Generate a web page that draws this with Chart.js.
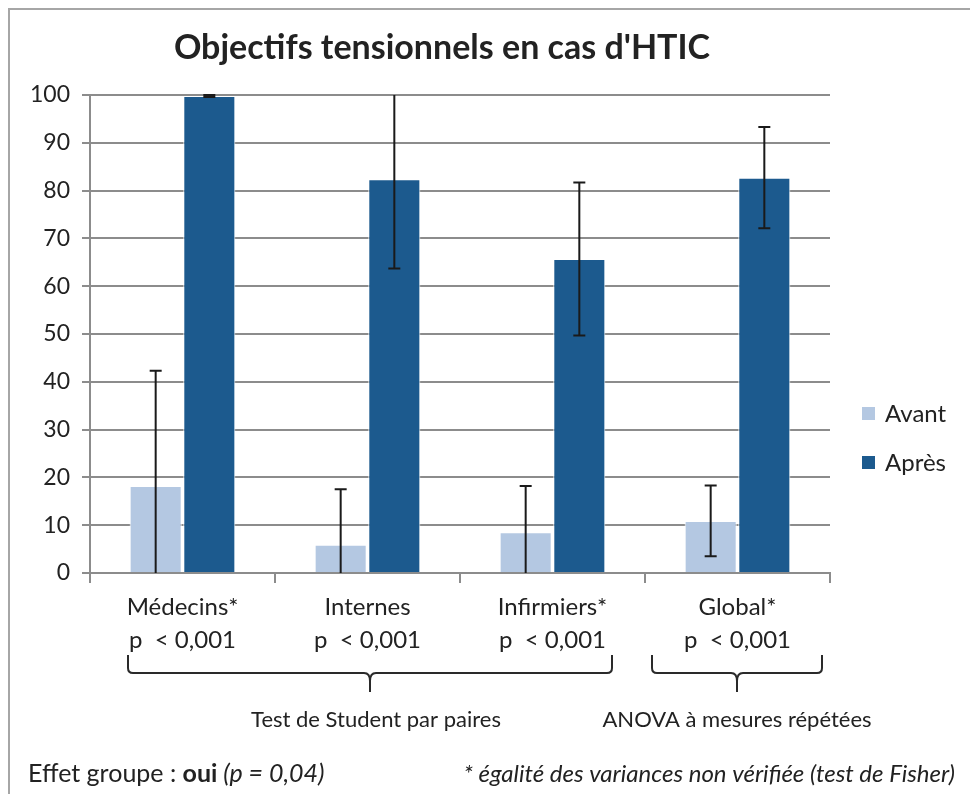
<!DOCTYPE html>
<html>
<head>
<meta charset="utf-8">
<script src="https://cdn.jsdelivr.net/npm/chart.js@4"></script>
<style>
  html, body { margin: 0; padding: 0; background: #fff; }
  #wrap { width: 970px; height: 794px; position: relative; }
</style>
</head>
<body>
<div id="wrap"><canvas id="chart" width="970" height="794"></canvas></div>
<script>
const categories = [['Médecins*', 'p  < 0,001'], ['Internes', 'p  < 0,001'], ['Infirmiers*', 'p  < 0,001'], ['Global*', 'p  < 0,001']];
const avant = [18.2, 5.9, 8.5, 10.9];
const avantErr = [24.1, 11.6, 9.7, 7.4];
const apres = [99.8, 82.4, 65.7, 82.7];
const apresErr = [0.2, 18.7, 16.0, 10.6];
const yTicks = [0, 10, 20, 30, 40, 50, 60, 70, 80, 90, 100];

const FONT = 'Lato, "Open Sans", sans-serif';
const TXT = '#222222';

// barres d'erreur dessinées via les échelles
const errorBars = {
    id: 'errorBars',
    afterDatasetsDraw(chart) {
        const ctx = chart.ctx;
        const y = chart.scales.y;
        const area = chart.chartArea;
        ctx.save();
        ctx.strokeStyle = '#1a1a1a';
        ctx.lineWidth = 2;
        chart.data.datasets.forEach((ds, di) => {
            const meta = chart.getDatasetMeta(di);
            meta.data.forEach((bar, i) => {
                const lo = ds.data[i] - ds.err[i];
                const hi = ds.data[i] + ds.err[i];
                const yLo = Math.min(y.getPixelForValue(Math.max(lo, 0)), area.bottom);
                const yHi = Math.max(y.getPixelForValue(Math.min(hi, 100)), area.top);
                ctx.beginPath();
                ctx.moveTo(bar.x, yLo);
                ctx.lineTo(bar.x, yHi);
                if (hi <= 100) { ctx.moveTo(bar.x - 6, yHi); ctx.lineTo(bar.x + 6, yHi); }
                if (lo >= 0) { ctx.moveTo(bar.x - 6, yLo); ctx.lineTo(bar.x + 6, yLo); }
                ctx.stroke();
            });
        });
        ctx.restore();
    }
};

function brace(ctx, x1, x2, xm, yTop, yMid, yTip) {
    const r = 5;
    ctx.beginPath();
    ctx.moveTo(x1, yTop);
    ctx.lineTo(x1, yMid - r);
    ctx.quadraticCurveTo(x1, yMid, x1 + r, yMid);
    ctx.lineTo(xm - 6, yMid);
    ctx.quadraticCurveTo(xm, yMid, xm, yMid + 8);
    ctx.lineTo(xm, yTip);
    ctx.moveTo(xm, yMid + 8);
    ctx.quadraticCurveTo(xm, yMid, xm + 6, yMid);
    ctx.lineTo(x2 - r, yMid);
    ctx.quadraticCurveTo(x2, yMid, x2, yMid - r);
    ctx.lineTo(x2, yTop);
    ctx.stroke();
}

// titre, légende, accolades, notes
const decor = {
    id: 'decor',
    afterDraw(chart) {
        const ctx = chart.ctx;
        ctx.save();
        // cadre
        ctx.strokeStyle = '#a6a6a6';
        ctx.lineWidth = 2;
        ctx.beginPath();
        ctx.moveTo(9, 800); ctx.lineTo(9, 9); ctx.lineTo(980, 9);
        ctx.stroke();

        ctx.fillStyle = TXT;
        ctx.textBaseline = 'middle';
        ctx.textAlign = 'center';
        ctx.font = 'bold 34px ' + FONT;
        ctx.fillText("Objectifs tensionnels en cas d'HTIC", 442, 48);

        // légende
        ctx.textAlign = 'left';
        ctx.font = '24px ' + FONT;
        chart.data.datasets.forEach((ds, i) => {
            const yy = 414 + i * 49;
            ctx.fillStyle = ds.backgroundColor;
            ctx.fillRect(862, yy - 7, 13, 13);
            ctx.fillStyle = TXT;
            ctx.fillText(ds.label, 885, yy);
        });

        // accolades
        ctx.strokeStyle = '#2a2a2a';
        ctx.lineWidth = 2;
        brace(ctx, 128, 612, 370, 655, 673, 692);
        brace(ctx, 652, 822, 737, 655, 673, 692);

        ctx.fillStyle = TXT;
        ctx.textAlign = 'center';
        ctx.font = '22px ' + FONT;
        ctx.fillText('Test de Student par paires', 376, 720);
        ctx.fillText('ANOVA à mesures répétées', 737, 720);

        // notes du bas
        ctx.textAlign = 'left';
        let x = 28;
        const yb = 774;
        const parts = [['25px ', 'Effet groupe : '], ['bold 25px ', 'oui'], ['italic 25px ', ' (p = 0,04)']];
        parts.forEach(p => {
            ctx.font = p[0] + FONT;
            ctx.fillText(p[1], x, yb);
            x += ctx.measureText(p[1]).width;
        });
        ctx.textAlign = 'right';
        ctx.font = 'italic 24px ' + FONT;
        ctx.fillText('* égalité des variances non vérifiée (test de Fisher)', 955, yb);
        ctx.restore();
    }
};

new Chart(document.getElementById('chart'), {
    type: 'bar',
    data: {
        labels: categories,
        datasets: [
            { label: 'Avant', data: avant, err: avantErr, backgroundColor: '#b4c8e2', borderColor: '#ffffff', borderWidth: 1 },
            { label: 'Après', data: apres, err: apresErr, backgroundColor: '#1c5a8e', borderColor: '#ffffff', borderWidth: 1 }
        ]
    },
    options: {
        responsive: false,
        animation: false,
        layout: { padding: { top: 95, right: 140, bottom: 141, left: 0 } },
        datasets: { bar: { categoryPercentage: 0.58, barPercentage: 0.97 } },
        plugins: { legend: { display: false }, tooltip: { enabled: false } },
        scales: {
            x: {
                afterFit: s => { s.height = 80; },
                grid: { drawOnChartArea: false, color: '#8c8c8c', lineWidth: 2, tickLength: 10 },
                border: { color: '#8c8c8c', width: 2 },
                ticks: { color: TXT, font: { family: FONT, size: 24, lineHeight: 1.38 }, padding: 8, maxRotation: 0 }
            },
            y: {
                min: 0, max: 100,
                afterFit: s => { s.width = 90; },
                afterBuildTicks: s => { s.ticks = yTicks.map(v => ({ value: v })); },
                grid: { color: '#8c8c8c', lineWidth: 2, tickLength: 8 },
                border: { color: '#8c8c8c', width: 2 },
                ticks: { color: TXT, font: { family: FONT, size: 23 }, padding: 12 }
            }
        }
    },
    plugins: [errorBars, decor]
});
</script>
</body>
</html>
